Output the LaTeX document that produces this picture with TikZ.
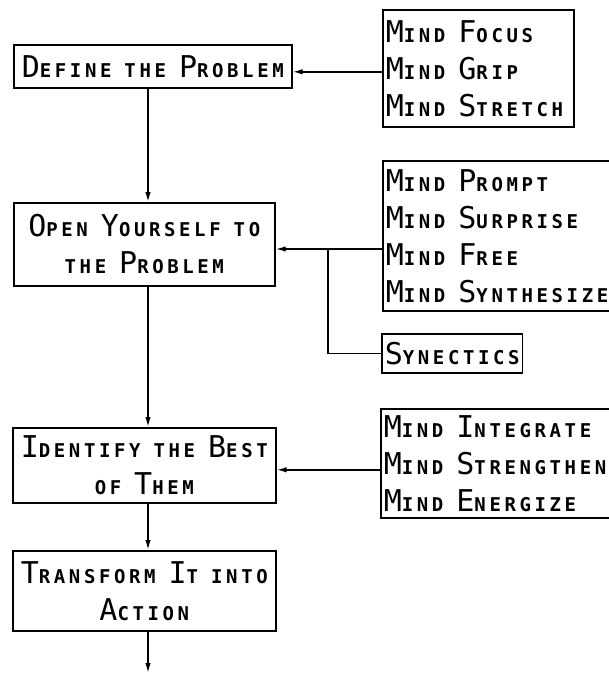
\documentclass[tikz,border=0pt]{standalone}
\usepackage{fontspec}
\setmainfont{DejaVu Sans Mono}[LetterSpace=19]
\usetikzlibrary{arrows.meta}
\newcommand\Bg[1]{{\fontsize{30}{37}\mdseries\selectfont #1}}
\newcommand\w{\hspace*{13pt}}
\begin{document}
\begin{tikzpicture}[x=1pt,y=-1pt,
  box/.style={draw, line width=1.6pt, inner xsep=3pt, inner ysep=0pt,
    font=\fontsize{19}{37}\bfseries\selectfont, anchor=north west},
  conn/.style={line width=1.6pt},
  arr/.style={conn, -{Latex[length=10pt,width=5.5pt]}}]
\useasboundingbox (0,0) rectangle (609,673);
\clip (0,0) rectangle (609,673);
% main column
\node[box, text width=272pt, minimum height=43pt, align=center] (def) at (13,44)
  {\Bg{D}EFINE\w THE\w \Bg{P}ROBLEM};
\node[box, text width=255pt, minimum height=83pt, align=center] (open) at (13,202)
  {\Bg{O}PEN\w \Bg{Y}OURSELF\w TO\\THE\w \Bg{P}ROBLEM};
\node[box, text width=257pt, minimum height=75pt, align=center] (ident) at (12,427)
  {\Bg{I}DENTIFY\w THE\w \Bg{B}EST\\OF\w \Bg{T}HEM};
\node[box, text width=257pt, minimum height=80pt, align=center] (trans) at (12,550)
  {\Bg{T}RANSFORM\w \Bg{I}T\w INTO\\\Bg{A}CTION};
% side boxes
\node[box, text width=185pt, minimum height=117pt, align=left] (mind1) at (382,9)
  {\Bg{M}IND\w \Bg{F}OCUS\\\Bg{M}IND\w \Bg{G}RIP\\\Bg{M}IND\w \Bg{S}TRETCH};
\node[box, text width=260pt, minimum height=150pt, align=left] (mind2) at (382,160)
  {\Bg{M}IND\w \Bg{P}ROMPT\\\Bg{M}IND\w \Bg{S}URPRISE\\\Bg{M}IND\w \Bg{F}REE\\\Bg{M}IND\w \Bg{S}YNTHESIZE};
\node[box, minimum height=39pt] (syn) at (381,333) {\Bg{S}YNECTICS};
\node[box, text width=260pt, minimum height=109pt, align=left] (mind3) at (380,408)
  {\Bg{M}IND\w \Bg{I}NTEGRATE\\\Bg{M}IND\w \Bg{S}TRENGTHEN\\\Bg{M}IND\w \Bg{E}NERGIZE};
% helper coordinates
\coordinate (spine) at (148,0);
\coordinate (j1) at (328,249);
\coordinate (end) at (148,673);
% connectors
\draw[arr] ([yshift=-3.5pt]mind1.west) -- ([yshift=-3.5pt]mind1.west -| def.east);
\draw[arr] (def.south -| spine) -- (open.north -| spine);
\draw[arr] (mind2.west |- j1) -- (open.east |- j1);
\draw[conn] (j1) |- (syn.west);
\draw[arr] (open.south -| spine) -- (ident.north -| spine);
\draw[arr] ([yshift=-6.5pt]mind3.west) -- ([yshift=-6.5pt]mind3.west -| ident.east);
\draw[arr] (ident.south -| spine) -- (trans.north -| spine);
\draw[arr] (trans.south -| spine) -- (end);
\end{tikzpicture}
\end{document}
